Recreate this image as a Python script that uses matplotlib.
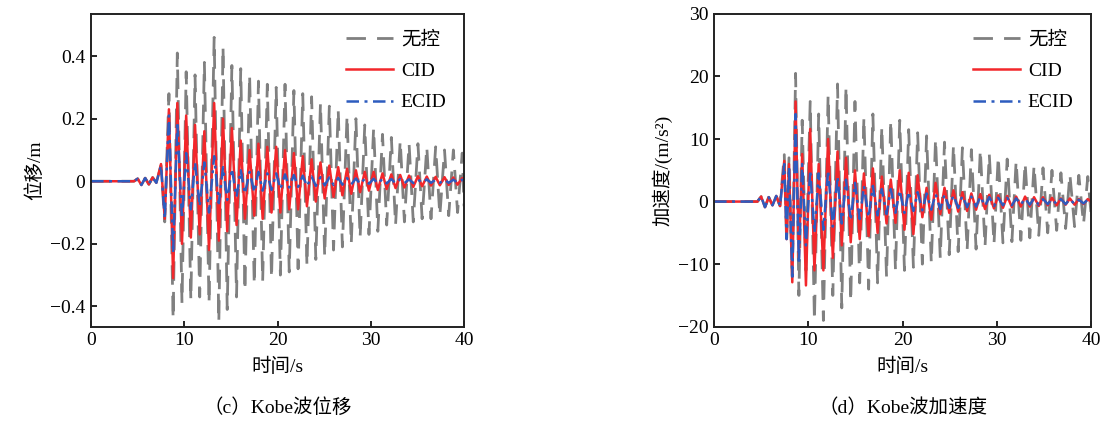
import numpy as np
import matplotlib.pyplot as plt
from matplotlib.ticker import FuncFormatter

plt.rcParams['font.family'] = ['Liberation Serif', 'Noto Sans CJK SC']

# (c) 位移时程：极值点时刻 / s
t_pre_c = [0, 4.6, 5.0, 5.4, 5.8, 6.2, 6.6, 7.0, 7.5, 7.9]
t_main_c = [8.35, 8.8, 9.25, 9.75, 10.2, 10.7, 11.15, 11.65, 12.15, 12.65,
            13.2, 13.7, 14.15, 14.6, 15.1, 15.6, 16.05, 16.5, 17.0, 17.5,
            17.95, 18.4, 18.9, 19.35, 19.85, 20.3, 20.8, 21.25, 21.75, 22.2,
            22.7, 23.15, 23.65, 24.1, 24.6, 25.05, 25.55, 26.0, 26.5, 26.95,
            27.45, 27.9, 28.4, 28.85, 29.35, 29.8, 30.3, 30.75, 31.25, 31.7,
            32.2, 32.65, 33.15, 33.6, 34.1, 34.55, 35.05, 35.5, 36.0, 36.45,
            36.95, 37.4, 37.9, 38.35, 38.85, 39.3, 39.8, 40.0]

# 位移 / m
d_pre_none = [0, 0, 0.008, -0.012, 0.01, -0.01, 0.012, -0.005, 0.05, -0.13]
d_pre_cid = [0, 0, 0.008, -0.012, 0.01, -0.01, 0.012, -0.005, 0.055, -0.12]
d_pre_ecid = [0, 0, 0.008, -0.012, 0.01, -0.01, 0.012, -0.005, 0.05, -0.12]

d_none = [0.28, -0.44, 0.41, -0.39, 0.35, -0.38, 0.34, -0.37, 0.38, -0.39,
          0.46, -0.45, 0.43, -0.41, 0.37, -0.37, 0.36, -0.35, 0.34, -0.33,
          0.32, -0.32, 0.31, -0.31, 0.30, -0.30, 0.31, -0.29, 0.29, -0.28,
          0.28, -0.27, 0.27, -0.25, 0.25, -0.24, 0.24, -0.22, 0.23, -0.21,
          0.21, -0.20, 0.20, -0.18, 0.18, -0.17, 0.17, -0.16, 0.15, -0.14,
          0.14, -0.14, 0.13, -0.13, 0.12, -0.13, 0.12, -0.12, 0.11, -0.12,
          0.11, -0.11, 0.10, -0.11, 0.10, -0.10, 0.09, -0.08]
d_cid = [0.23, -0.31, 0.25, -0.20, 0.21, -0.18, 0.18, -0.17, 0.16, -0.22,
         0.25, -0.19, 0.20, -0.16, 0.17, -0.14, 0.13, -0.12, 0.10, -0.11,
         0.12, -0.12, 0.11, -0.10, 0.11, -0.10, 0.10, -0.09, 0.09, -0.09,
         0.08, -0.08, 0.07, -0.065, 0.06, -0.055, 0.05, -0.05, 0.045, -0.045,
         0.04, -0.04, 0.035, -0.035, 0.03, -0.03, 0.03, -0.028, 0.025, -0.025,
         0.022, -0.022, 0.02, -0.02, 0.018, -0.018, 0.016, -0.016, 0.015, -0.014,
         0.014, -0.013, 0.013, -0.012, 0.012, -0.011, 0.01, 0.0]
d_ecid = [0.21, -0.23, 0.19, -0.12, 0.09, -0.09, 0.06, -0.08, 0.06, -0.10,
          0.08, -0.07, 0.045, -0.06, 0.04, -0.05, 0.035, -0.04, 0.03, -0.035,
          0.03, -0.03, 0.025, -0.028, 0.025, -0.025, 0.022, -0.02, 0.02, -0.018,
          0.018, -0.016, 0.015, -0.015, 0.013, -0.013, 0.012, -0.012, 0.011, -0.011,
          0.01, -0.01, 0.009, -0.009, 0.008, -0.008, 0.008, -0.008, 0.008, -0.007,
          0.007, -0.007, 0.007, -0.006, 0.006, -0.006, 0.006, -0.006, 0.006, -0.005,
          0.005, -0.005, 0.005, -0.005, 0.005, -0.005, 0.005, 0.0]

# (d) 加速度时程：极值点时刻 / s
t_pre_d = [0, 4.6, 5.0, 5.4, 5.8, 6.2, 6.6, 7.0, 7.45, 7.7]
t_main_d = [7.95, 8.3, 8.65, 9.0, 9.35, 9.75, 10.2, 10.65, 11.1, 11.6,
            12.1, 12.6, 13.1, 13.55, 14.0, 14.5, 14.95, 15.45, 15.9, 16.4,
            16.85, 17.35, 17.8, 18.3, 18.75, 19.25, 19.7, 20.2, 20.65, 21.15,
            21.6, 22.1, 22.55, 23.05, 23.5, 24.0, 24.45, 24.95, 25.4, 25.9,
            26.35, 26.85, 27.3, 27.8, 28.25, 28.75, 29.2, 29.7, 30.15, 30.65,
            31.1, 31.6, 32.05, 32.55, 33.0, 33.5, 33.95, 34.45, 34.9, 35.4,
            35.85, 36.35, 36.8, 37.3, 37.75, 38.25, 38.7, 39.2, 39.65, 40.0]

# 加速度 / (m/s²)
a_pre_none = [0, 0, 0.8, -0.9, 0.7, -0.6, 0.9, -0.7, 7.5, -6.5]
a_pre_cid = [0, 0, 0.8, -0.9, 0.7, -0.6, 0.9, -0.7, 6.5, -6.0]
a_pre_ecid = [0, 0, 0.8, -0.9, 0.7, -0.6, 0.9, -0.7, 6.0, -6.0]

a_none = [7.0, -12, 20.5, -15, 13, -11, 16, -19, 14, -19,
          17, -15, 18.8, -17, 18.4, -16, 16, -13, 13.5, -14,
          14, -13, 12, -12, 13, -11, 13, -11, 11.5, -10.5,
          11, -10, 10.5, -9.8, 10, -9, 9.5, -8.5, 9, -8,
          8.6, -7.8, 8.3, -7.6, 8.3, -7.2, 7.6, -6.8, 7.2, -6.6,
          6.8, -6.4, 6.5, -6.2, 6.2, -5.8, 5.8, -5.4, 5.4, -5.0,
          5.0, -4.6, 4.6, -4.3, 4.4, -4.0, 4.2, -3.6, 4.0, -2.0]
a_cid = [6.0, -12.9, 16, -9, 7.6, -13.4, 11.6, -11, 6, -11,
         10, -9, 8, -7, 7, -6.5, 5, -6, 4.5, -5.5,
         5.3, -5, 4, -3.5, 3.5, -3.4, 5, -4.5, 4.6, -5.2,
         4.2, -2.5, 2.2, -2.9, 3, -2, 2.2, -1.8, 1.8, -1.6,
         1.5, -1.5, 1.3, -1.3, 1.2, -1.2, 1.1, -1.1, 1.0, -1.0,
         0.9, -0.9, 0.8, -0.8, 0.8, -0.8, 0.7, -0.7, 0.7, -0.6,
         0.6, -0.6, 0.5, -0.5, 0.5, -0.5, 0.4, -0.4, 0.4, 0.0]
a_ecid = [5.5, -12, 14, -10, 6, -7, 5, -5, 4.5, -4.5,
          5, -4, 4, -3.5, 3.5, -3, 3, -2.8, 2.5, -2.5,
          2.5, -2.2, 2, -2, 2, -1.8, 1.8, -1.8, 1.6, -1.5,
          1.5, -1.4, 1.3, -1.3, 1.2, -1.2, 1.1, -1.0, 1.0, -1.0,
          0.9, -0.9, 0.8, -0.8, 0.8, -0.7, 0.7, -0.7, 0.6, -0.6,
          0.6, -0.6, 0.5, -0.5, 0.5, -0.5, 0.5, -0.5, 0.4, -0.4,
          0.4, -0.4, 0.4, -0.4, 0.4, -0.4, 0.3, -0.3, 0.3, 0.0]

labels = ['无控', 'CID', 'ECID']
colors = ['#808080', '#f2272b', '#2d5cbf']


def minus_fmt(v, pos):
    s = ('%g' % round(v, 6))
    return s.replace('-', '\u2212')


def draw(ax, t, series, ylim, yticks, ylabel, xlabel, caption):
    ax.plot(t, series[0], color=colors[0], lw=2.0, dashes=(7, 4), label=labels[0])
    ax.plot(t, series[1], color=colors[1], lw=1.8, label=labels[1])
    ax.plot(t, series[2], color=colors[2], lw=1.8, dashes=(5, 2.2, 1.2, 2.2), label=labels[2])
    ax.set_xlim(0, 40)
    ax.set_ylim(*ylim)
    ax.set_xticks([0, 10, 20, 30, 40])
    ax.set_yticks(yticks)
    ax.yaxis.set_major_formatter(FuncFormatter(minus_fmt))
    ax.tick_params(direction='in', length=4, width=1.2, labelsize=14, pad=4)
    for s in ax.spines.values():
        s.set_linewidth(1.4)
        s.set_color('#222222')
    ax.set_ylabel(ylabel, fontsize=14, labelpad=4)
    ax.set_xlabel(xlabel, fontsize=14, labelpad=6)
    ax.legend(loc='upper right', frameon=False, fontsize=14, handlelength=2.4,
              labelspacing=0.7, borderaxespad=0.5, handletextpad=0.4)
    pos = ax.get_position()
    ax.figure.text((pos.x0 + pos.x1) / 2, 0.032, caption, ha='center', va='center', fontsize=14)


fig = plt.figure(figsize=(11.05, 4.21), dpi=100)
ax1 = fig.add_axes([0.0824, 0.224, 0.3376, 0.743])
ax2 = fig.add_axes([0.6462, 0.224, 0.3412, 0.743])

draw(ax1, t_pre_c + t_main_c,
     [d_pre_none + d_none, d_pre_cid + d_cid, d_pre_ecid + d_ecid],
     (-0.465, 0.535), [-0.4, -0.2, 0, 0.2, 0.4], '位移/m', '时间/s', '（c）Kobe波位移')
draw(ax2, t_pre_d + t_main_d,
     [a_pre_none + a_none, a_pre_cid + a_cid, a_pre_ecid + a_ecid],
     (-20, 30), [-20, -10, 0, 10, 20, 30], '加速度/(m/s²)', '时间/s', '（d）Kobe波加速度')

fig.savefig('out.png', dpi=100)
